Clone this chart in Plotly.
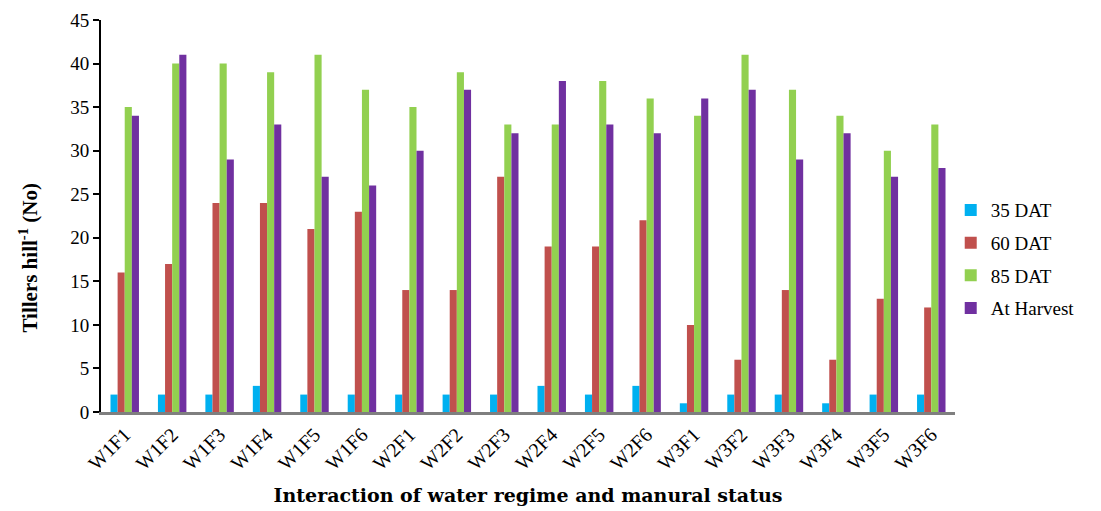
import plotly.graph_objects as go

categories = ["W1F1", "W1F2", "W1F3", "W1F4", "W1F5", "W1F6",
              "W2F1", "W2F2", "W2F3", "W2F4", "W2F5", "W2F6",
              "W3F1", "W3F2", "W3F3", "W3F4", "W3F5", "W3F6"]
dat35 = [2, 2, 2, 3, 2, 2, 2, 2, 2, 3, 2, 3, 1, 2, 2, 1, 2, 2]
dat60 = [16, 17, 24, 24, 21, 23, 14, 14, 27, 19, 19, 22, 10, 6, 14, 6, 13, 12]
dat85 = [35, 40, 40, 39, 41, 37, 35, 39, 33, 33, 38, 36, 34, 41, 37, 34, 30, 33]
harvest = [34, 41, 29, 33, 27, 26, 30, 37, 32, 38, 33, 32, 36, 37, 29, 32, 27, 28]

series = [("35 DAT", dat35, "#00B0F0"),
          ("60 DAT", dat60, "#C0504D"),
          ("85 DAT", dat85, "#92D050"),
          ("At Harvest", harvest, "#7030A0")]

fig = go.Figure()
for name, vals, col in series:
    fig.add_trace(go.Bar(x=categories, y=vals, name=name, legendgroup=name,
                         marker=dict(color=col, line=dict(width=0))))

serif = "Times New Roman, Liberation Serif, serif"
fig.update_layout(
    width=1101, height=511,
    margin=dict(l=101, r=146, t=20, b=99),
    paper_bgcolor="white", plot_bgcolor="white",
    barmode="group", bargap=0.4, bargroupgap=0,
    font=dict(family=serif, color="black", size=19),
    showlegend=True,
    legend=dict(x=0.995, y=0.39, xanchor="left", yanchor="middle",
                font=dict(family=serif, size=19), tracegroupgap=5,
                itemwidth=30),
    xaxis=dict(tickangle=-45, tickfont=dict(family=serif, size=20),
               showline=True, linecolor="#7f7f7f", linewidth=3,
               ticks="", showgrid=False, automargin=False,
               title=dict(text="<b>Interaction of water regime and manural status</b>",
                          font=dict(family="DejaVu Serif", size=19), standoff=16)),
    yaxis=dict(range=[0, 45], dtick=5, tickfont=dict(family=serif, size=19),
               showline=True, linecolor="black", linewidth=2,
               ticks="outside", ticklen=6, tickwidth=2, tickcolor="black",
               showgrid=False, zeroline=False, automargin=False),
    annotations=[dict(text="<b>Tillers hill<sup>-1</sup> (No)</b>",
                      textangle=-90, xref="paper", yref="paper",
                      x=-0.085, y=0.395, xanchor="center", yanchor="middle",
                      showarrow=False, font=dict(family=serif, size=21))],
)

fig.write_html("out.html")
